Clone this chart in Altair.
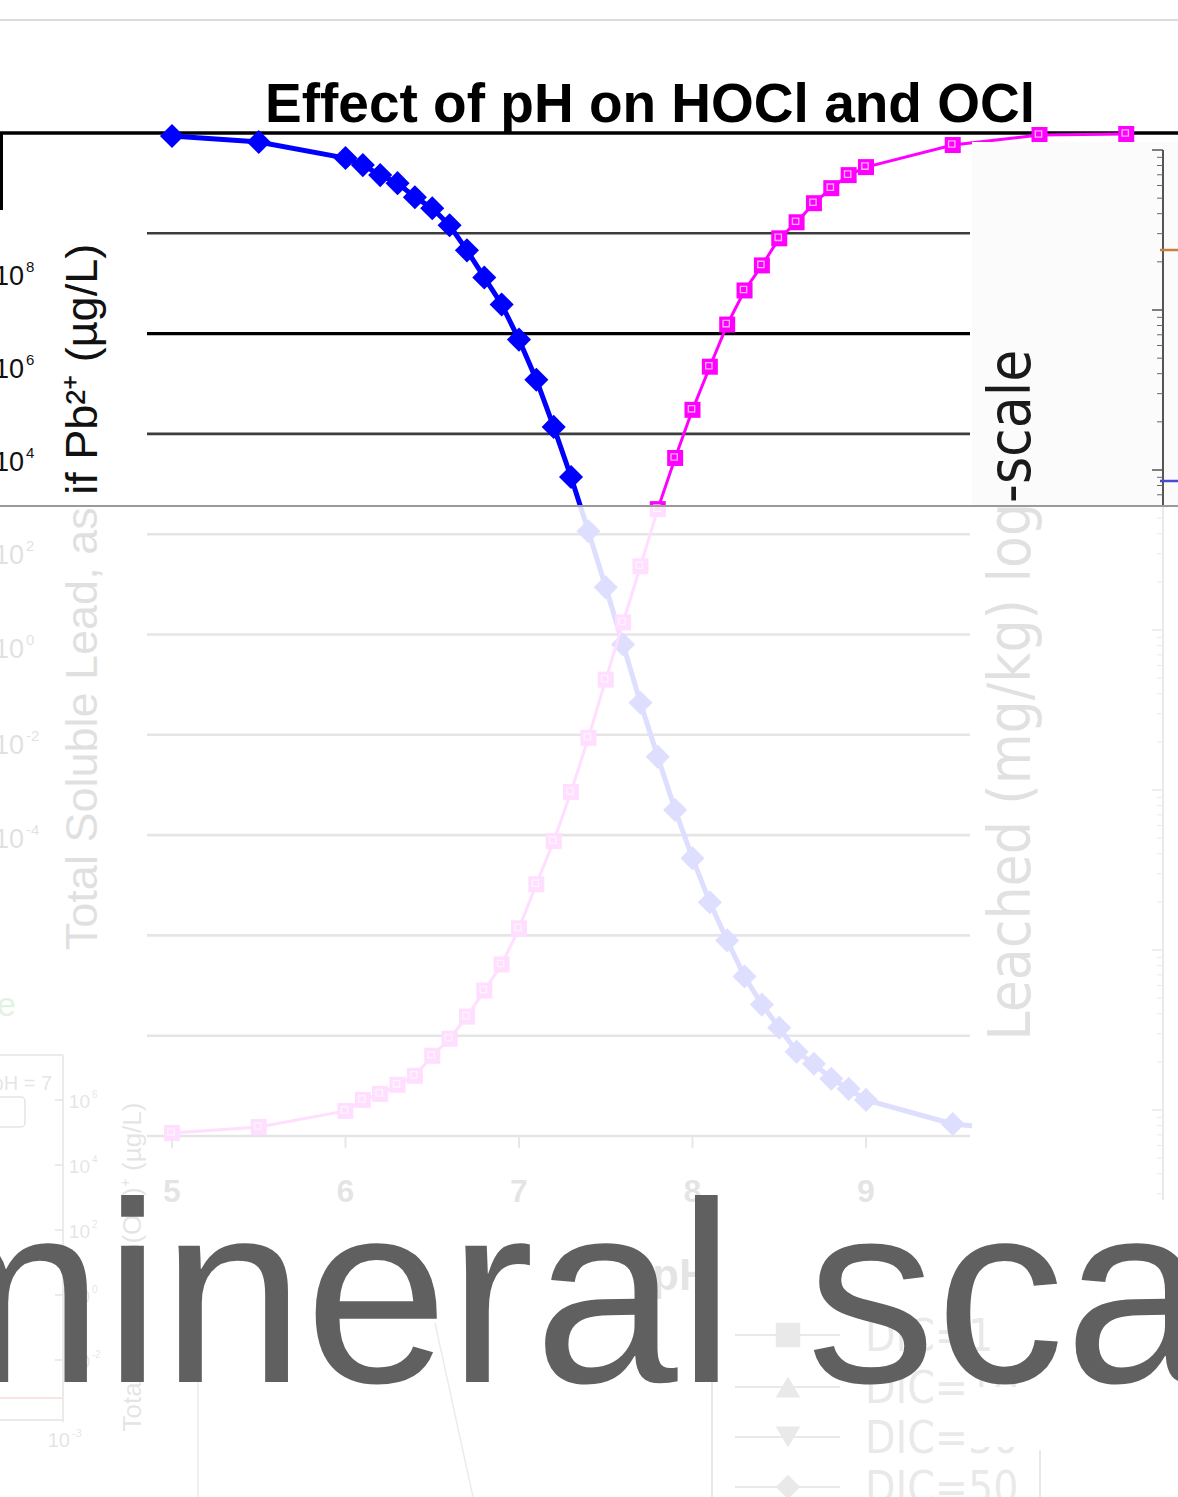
import math
import altair as alt
import pandas as pd

# ---------------- data ----------------
PH = [5.0, 5.5, 6.0, 6.1, 6.2, 6.3, 6.4, 6.5, 6.6, 6.7, 6.8, 6.9, 7.0, 7.1, 7.2, 7.3,
      7.4, 7.5, 7.6, 7.7, 7.8, 7.9, 8.0, 8.1, 8.2, 8.3, 8.4, 8.5, 8.6, 8.7, 8.8, 8.9,
      9.0, 9.5, 10.0, 10.5]
HOCL = [99.7, 99.1, 97.5, 96.8, 95.8, 95.0, 93.6, 92.5, 90.8, 88.3, 85.6, 82.9, 79.4,
        75.4, 70.7, 65.7, 60.3, 54.7, 49.0, 43.2, 37.8, 32.5, 27.7, 23.3, 19.5, 15.9,
        13.1, 10.8, 8.4, 7.2, 5.7, 4.7, 3.6, 1.2, 0.4, 0.1]
OCL = [0.3, 0.9, 2.5, 3.6, 4.2, 5.1, 6.0, 8.0, 9.7, 11.9, 14.5, 17.1, 20.7, 25.1,
       29.4, 34.3, 39.7, 45.5, 51.2, 56.8, 62.5, 67.6, 72.4, 76.7, 80.9, 84.3, 86.8,
       89.5, 91.1, 93.0, 94.5, 95.8, 96.6, 98.8, 99.8, 99.9]
GRID = [0, 10, 20, 30, 40, 50, 60, 70, 90]
GRID_DARK = [80]
FRAME = [100]
TICKS = [5, 6, 7, 8, 9]
TICK_LABELS = ["5", "6", "7", "8", "9"]
TITLE = "Effect of pH on HOCl and OCl"
BIG_TEXT = "mineral sca"
LEFT_LOG_EXP = ["8", "6", "4", "2", "0", "-2", "-4"]
INSET_LOG_EXP = ["6", "4", "2", "0", "-2"]
LEGEND_LABELS = ["DIC=1", "DIC=10", "DIC=30", "DIC=50"]

W, H = 1178, 1497
COND = "DejaVu Sans Condensed, DejaVu Sans, sans-serif"
SANS = "Liberation Sans, Arial, sans-serif"

XS = alt.Scale(domain=[4.00865, 10.7983], nice=False, zero=False)
YS = alt.Scale(domain=[-35.992, 113.26], nice=False, zero=False)

one = pd.DataFrame({"d": [0]})


def rule(x1, y1, x2, y2, color, w=1.0, opacity=1.0):
    return alt.Chart(one).mark_rule(color=color, strokeWidth=w, opacity=opacity).encode(
        x=alt.value(x1), y=alt.value(y1), x2=alt.value(x2), y2=alt.value(y2))


def rect(x1, y1, x2, y2, fill, opacity=1.0):
    return alt.Chart(one).mark_rect(fill=fill, opacity=opacity).encode(
        x=alt.value(x1), y=alt.value(y1), x2=alt.value(x2), y2=alt.value(y2))


def box(x1, y1, x2, y2, stroke, w=1.5):
    return alt.Chart(one).mark_rect(fillOpacity=0, stroke=stroke, strokeWidth=w,
                                    cornerRadius=4).encode(
        x=alt.value(x1), y=alt.value(y1), x2=alt.value(x2), y2=alt.value(y2))


def text(s, x, y, size, color="#000", font=SANS, weight="normal", align="left",
         baseline="alphabetic", angle=None):
    kw = dict(text=s, fontSize=size, color=color, font=font, fontWeight=weight,
              align=align, baseline=baseline)
    if angle is not None:
        kw["angle"] = angle
    return alt.Chart(one).mark_text(**kw).encode(x=alt.value(x), y=alt.value(y))


def sym(shape, x, y, size, color):
    return alt.Chart(one).mark_point(shape=shape, filled=True, size=size, color=color,
                                     opacity=1).encode(x=alt.value(x), y=alt.value(y))


layers = []

# page separator at the top
layers.append(rule(0, 20, W, 20, "#d2d2d2", 1.5))

# grid lines
layers.append(alt.Chart(pd.DataFrame({"v": GRID})).mark_rule(color="#3c3c3c", strokeWidth=2.6).encode(
    y=alt.Y("v:Q", scale=YS, axis=None), x=alt.value(147), x2=alt.value(970)))
layers.append(alt.Chart(pd.DataFrame({"v": GRID_DARK})).mark_rule(color="#000", strokeWidth=3.2).encode(
    y=alt.Y("v:Q", scale=YS, axis=None), x=alt.value(147), x2=alt.value(970)))
layers.append(alt.Chart(pd.DataFrame({"v": FRAME})).mark_rule(color="#000", strokeWidth=3.5).encode(
    y=alt.Y("v:Q", scale=YS, axis=None), x=alt.value(0), x2=alt.value(W)))
layers.append(rule(1.5, 133, 1.5, 210, "#000", 3))

# x axis ticks and labels
tdf = pd.DataFrame({"t": TICKS, "lab": TICK_LABELS})
layers.append(alt.Chart(tdf).mark_rule(color="#444", strokeWidth=2).encode(
    x=alt.X("t:Q", scale=XS, axis=None), y=alt.value(1136), y2=alt.value(1148)))
layers.append(alt.Chart(tdf).mark_text(fontSize=32, fontWeight="bold", font=SANS, color="#333",
                                       align="center", baseline="alphabetic").encode(
    x=alt.X("t:Q", scale=XS, axis=None), y=alt.value(1202), text="lab:N"))
layers.append(text("pH", 652, 1290, 44, "#333", SANS, "bold"))

# left fragment: log axis labels and rotated title of another chart
for base_y, sup in zip([285, 378, 471, 564, 658, 754, 848], LEFT_LOG_EXP):
    layers.append(text("10", 24, base_y, 27, "#111", SANS, "normal", "right"))
    layers.append(text(sup, 26, base_y - 13, 15, "#111"))
layers.append(text("Total Soluble Lead, as if Pb²⁺ (µg/L)", 97, 597, 45, "#111", SANS,
                   "normal", "center", "alphabetic", 270))
layers.append(text("e", -3, 1016, 34, "#1a9a1a"))

# data
df = pd.DataFrame({"pH": PH, "HOCl": HOCL, "OCl": OCL})
enc_b = dict(x=alt.X("pH:Q", scale=XS, axis=None), y=alt.Y("HOCl:Q", scale=YS, axis=None))
enc_m = dict(x=alt.X("pH:Q", scale=XS, axis=None), y=alt.Y("OCl:Q", scale=YS, axis=None))
layers.append(alt.Chart(df).mark_line(color="#0000ff", strokeWidth=5).encode(**enc_b))
layers.append(alt.Chart(df).mark_point(shape="diamond", filled=True, size=580, color="#0000ff",
                                       opacity=1).encode(**enc_b))
layers.append(alt.Chart(df).mark_line(color="#ff00ff", strokeWidth=3).encode(**enc_m))
layers.append(alt.Chart(df).mark_point(shape="square", filled=True, size=256, color="#ff00ff",
                                       opacity=1).encode(**enc_m))
layers.append(alt.Chart(df).mark_point(shape="square", filled=False, size=40, color="#ffb3ff",
                                       strokeWidth=1.3, opacity=1, xOffset=-1, yOffset=-1).encode(**enc_m))

# right fragment: panel of a log-scale chart
layers.append(rect(972, 142, W, 1387, "#fbfbfb"))
layers.append(text("Leached (mg/kg) log-scale", 1030, 695, 58, "#1a1a1a", COND, "normal",
                   "center", "alphabetic", 270))
layers.append(rule(1163, 150, 1163, 1200, "#555", 2))
for top in [150, 310, 470, 630, 790, 950, 1110]:
    layers.append(rule(1152, top, 1163, top, "#555", 1.5))
    for k in range(2, 10):
        yy = top + 160 * (1 - math.log10(k))
        if yy < 1200:
            layers.append(rule(1157, yy, 1163, yy, "#666", 1))
layers.append(rule(1160, 250, W, 250, "#c8803c", 2.5))
layers.append(rule(1160, 481, W, 481, "#4a4ad0", 2.5))

# lower-left fragments of other charts
layers.append(rule(63, 1055, 63, 1422, "#333", 1.5))
layers.append(rule(0, 1055, 63, 1055, "#333", 1.5))
layers.append(rule(0, 1420, 63, 1420, "#333", 1.5))
layers.append(rule(0, 1398, 63, 1398, "#d03030", 2))
layers.append(text("pH = 7", 52, 1090, 20, "#333", SANS, "normal", "right"))
layers.append(box(-6, 1097, 25, 1127, "#333"))
for yy, sup in zip([1108, 1173, 1238, 1303, 1368], INSET_LOG_EXP):
    layers.append(rule(55, yy - 8, 63, yy - 8, "#333", 1.5))
    layers.append(text("10", 90, yy, 19, "#333", SANS, "normal", "right"))
    layers.append(text(sup, 92, yy - 10, 10, "#333"))
layers.append(text("10", 70, 1447, 20, "#333", SANS, "normal", "right"))
layers.append(text("-3", 72, 1437, 11, "#333"))
layers.append(text("Total Soluble Pb(OH)⁺ (µg/L)", 141, 1267, 26, "#333", SANS, "normal",
                   "center", "alphabetic", 270))
layers.append(rule(198, 1380, 198, H, "#666", 1.5))
layers.append(rule(435, 1323, 473, H, "#666", 1.5))

# lower-right legend fragment
layers.append(rule(712, 1310, 712, H, "#555", 2))
layers.append(rule(1040, 1450, 1040, H, "#555", 2))
for yy, shp, lab in zip([1335, 1387, 1437, 1487],
                        ["square", "triangle-up", "triangle-down", "diamond"], LEGEND_LABELS):
    layers.append(rule(735, yy, 840, yy, "#555", 2))
    layers.append(sym(shp, 788, yy, 600, "#555"))
    layers.append(text(lab, 865, yy + 16, 44, "#555", COND))

# chart title
layers.append(text(TITLE, 265, 122, 55, "#000", SANS, "bold"))

# fading veil over the lower half of the collage
layers.append(rect(0, 507, W, H, "#ffffff", 0.87))
layers.append(rule(0, 506, W, 506, "#9a9a9a", 2))
layers.append(rect(972, 1387, W, 1447, "#ffffff"))

# big foreground caption
layers.append(text(BIG_TEXT, -111, 1382, 258, "#606060", SANS))

chart = alt.layer(*layers).properties(
    width=W, height=H, padding=0,
    autosize=alt.AutoSizeParams(type="none"),
    background="white",
).configure_view(strokeWidth=0)

chart.save("out.html", embed_options={"renderer": "svg", "actions": False})
